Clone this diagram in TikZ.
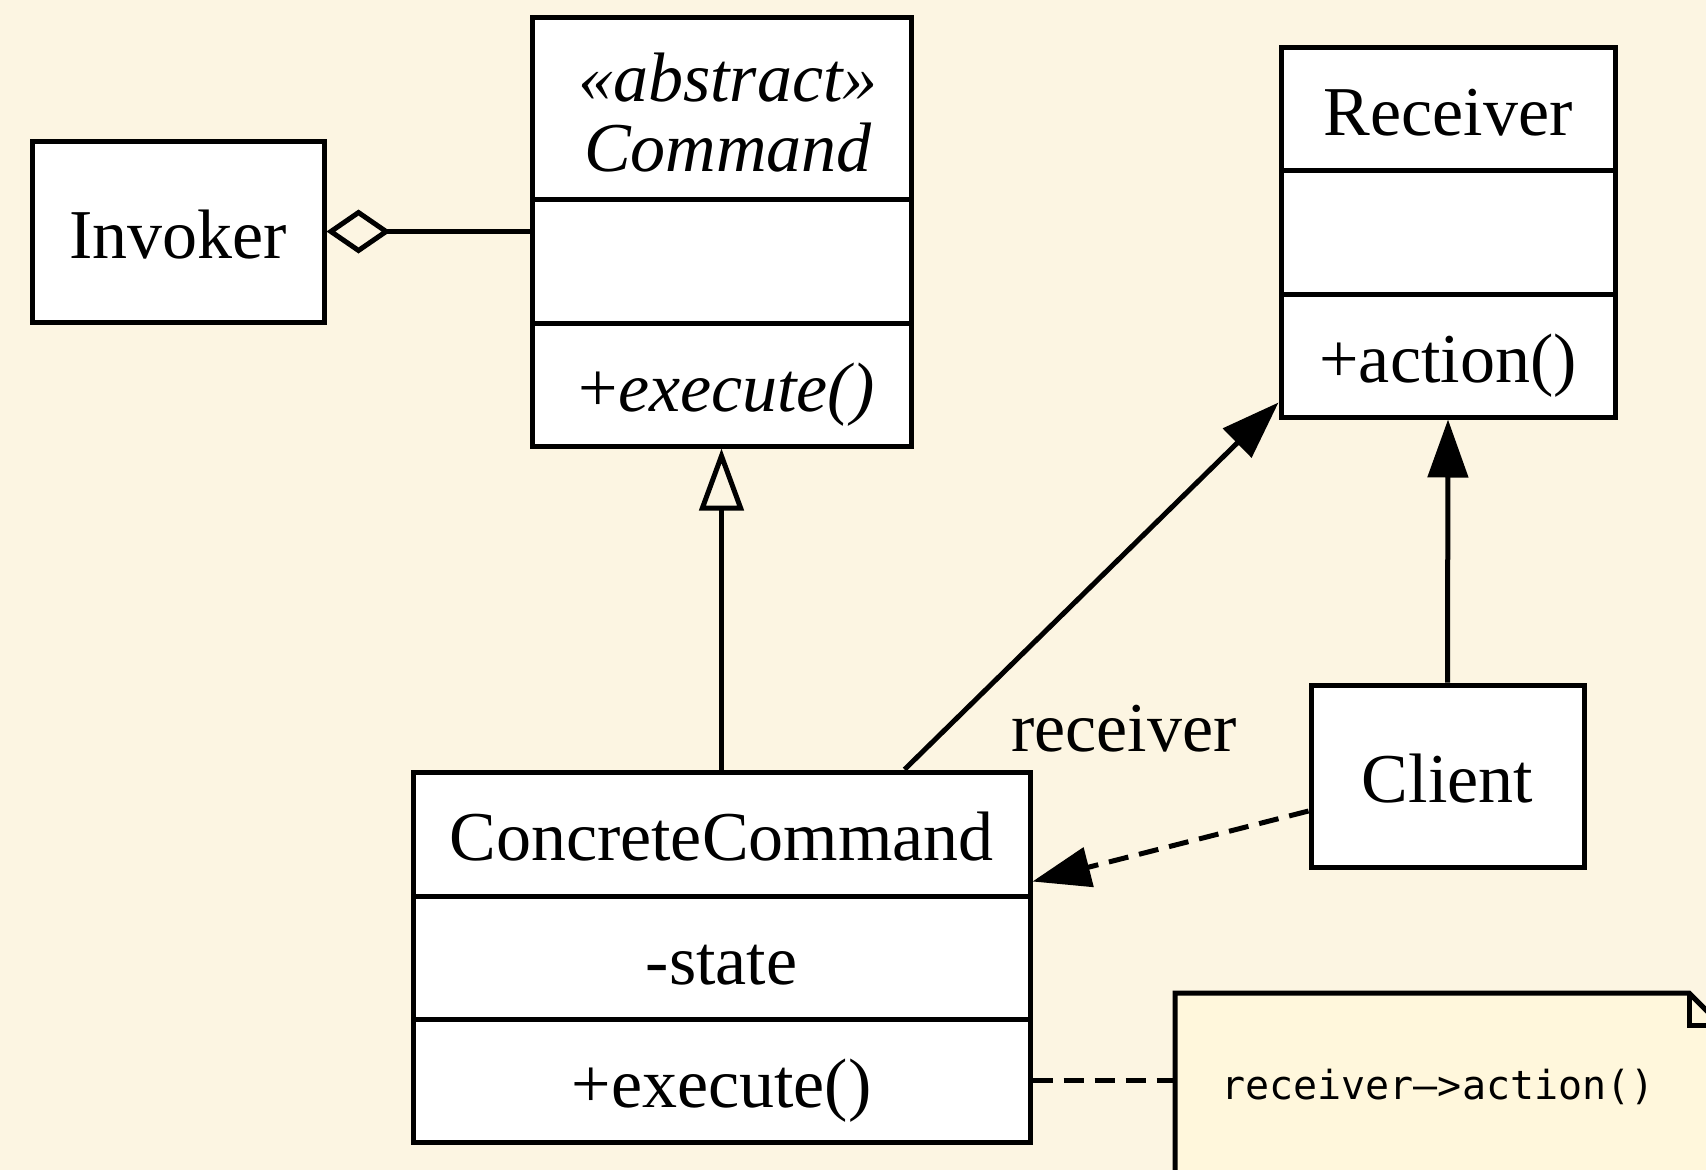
\documentclass[tikz,border=0pt]{standalone}
\usepackage{fontspec}
\setmainfont{Liberation Serif}
\newfontfamily\notefont{DejaVu Sans Mono}
\usetikzlibrary{arrows.meta,calc}
\definecolor{bgc}{HTML}{FCF5E2}
\definecolor{notec}{HTML}{FFF7DC}
\begin{document}
\begin{tikzpicture}[x=1pt,y=-1pt,
  comp/.style={draw, fill=white, line width=5pt, rectangle, inner sep=0pt,
    text height=53pt, text depth=0pt, font=\fontsize{70}{66}\selectfont},
  txt/.style={anchor=base, inner sep=0pt, font=\fontsize{70}{66}\selectfont},
  conn/.style={line width=5pt},
  dashline/.style={dash pattern=on 20pt off 11pt},
  filledtip/.style={-{Triangle[length=58pt,width=40pt]}}
]
\useasboundingbox (0,0) rectangle (1706,1170);
\clip (0,0) rectangle (1706,1170);
\fill[bgc] (0,0) rectangle (1706,1170);

% Invoker
\node[comp, minimum width=292pt, minimum height=181pt] (inv) at (178,231.5) {Invoker};

% Command
\node[comp, minimum width=379pt, minimum height=182pt] (cmdH) at (721.5,108) {};
\node[txt] (cmdSt) at (728,101) {\textit{«abstract»}};
\node[txt] (cmdNm) at (728,171) {\textit{Command}};
\node[comp, minimum width=379pt, minimum height=124pt] (cmdA) at (721.5,261) {};
\node[comp, minimum width=379pt, minimum height=123pt] (cmdO) at (721.5,384.5) {\hspace*{10pt}+\textit{execute()}};

% Receiver
\node[comp, minimum width=334pt, minimum height=123pt] (recH) at (1448,108.5) {Receiver};
\node[comp, minimum width=334pt, minimum height=124pt] (recA) at (1448,232) {};
\node[comp, minimum width=334pt, minimum height=123pt] (recO) at (1448,355.5) {+action()};

% Client
\node[comp, minimum width=273pt, minimum height=182pt] (cli) at (1447.5,776) {Client};

% ConcreteCommand
\node[comp, minimum width=617pt, minimum height=124pt] (ccH) at (721.5,834) {ConcreteCommand};
\node[comp, minimum width=617pt, minimum height=123pt] (ccA) at (721.5,957.5) {-state};
\node[comp, minimum width=617pt, minimum height=123pt] (ccO) at (721.5,1080.5) {+execute()};

% Note
\node[draw=none, minimum width=546pt, minimum height=184pt, inner sep=0pt, outer sep=0pt] (note) at (1448,1085) {};
\filldraw[line width=5pt, fill=notec] (note.south west) -- (note.north west) -- ($(note.north east)+(-32,0)$) -- ($(note.north east)+(0,32)$) -- (note.south east) -- cycle;
\draw[line width=5pt] ($(note.north east)+(-32,0)$) -- ($(note.north east)+(-32,32)$) -- ($(note.north east)+(0,32)$);
\node[anchor=base west, font=\notefont\fontsize{40}{40}\selectfont, inner sep=0pt] (notetxt) at ($(note.west)+(46,14)$) {receiver–>action()};

% Connectors
\draw[conn, {Diamond[open,length=64pt,width=44pt]}-] (inv.east) -- (inv.east -| cmdA.west);
\draw[conn, -{Triangle[open,length=62pt,width=44pt]}] (ccH.north) -- (cmdO.south);
\draw[conn, filledtip] ($(ccH.north west)+(494,0)$) -- ($(recO.south west)+(0,-17)$);
\node[anchor=base, font=\fontsize{70}{70}\selectfont, inner sep=0pt] (lbl) at (1124,751) {receiver};
\draw[conn, filledtip] (cli.north) -- (recO.south);
\draw[conn, dashline, filledtip] ($(cli.west)+(0,35)$) -- ($(ccH.south east)+(0,-17)$);
\draw[conn, dashline] (ccO.east) -- (note.west |- ccO.east);
\end{tikzpicture}
\end{document}
